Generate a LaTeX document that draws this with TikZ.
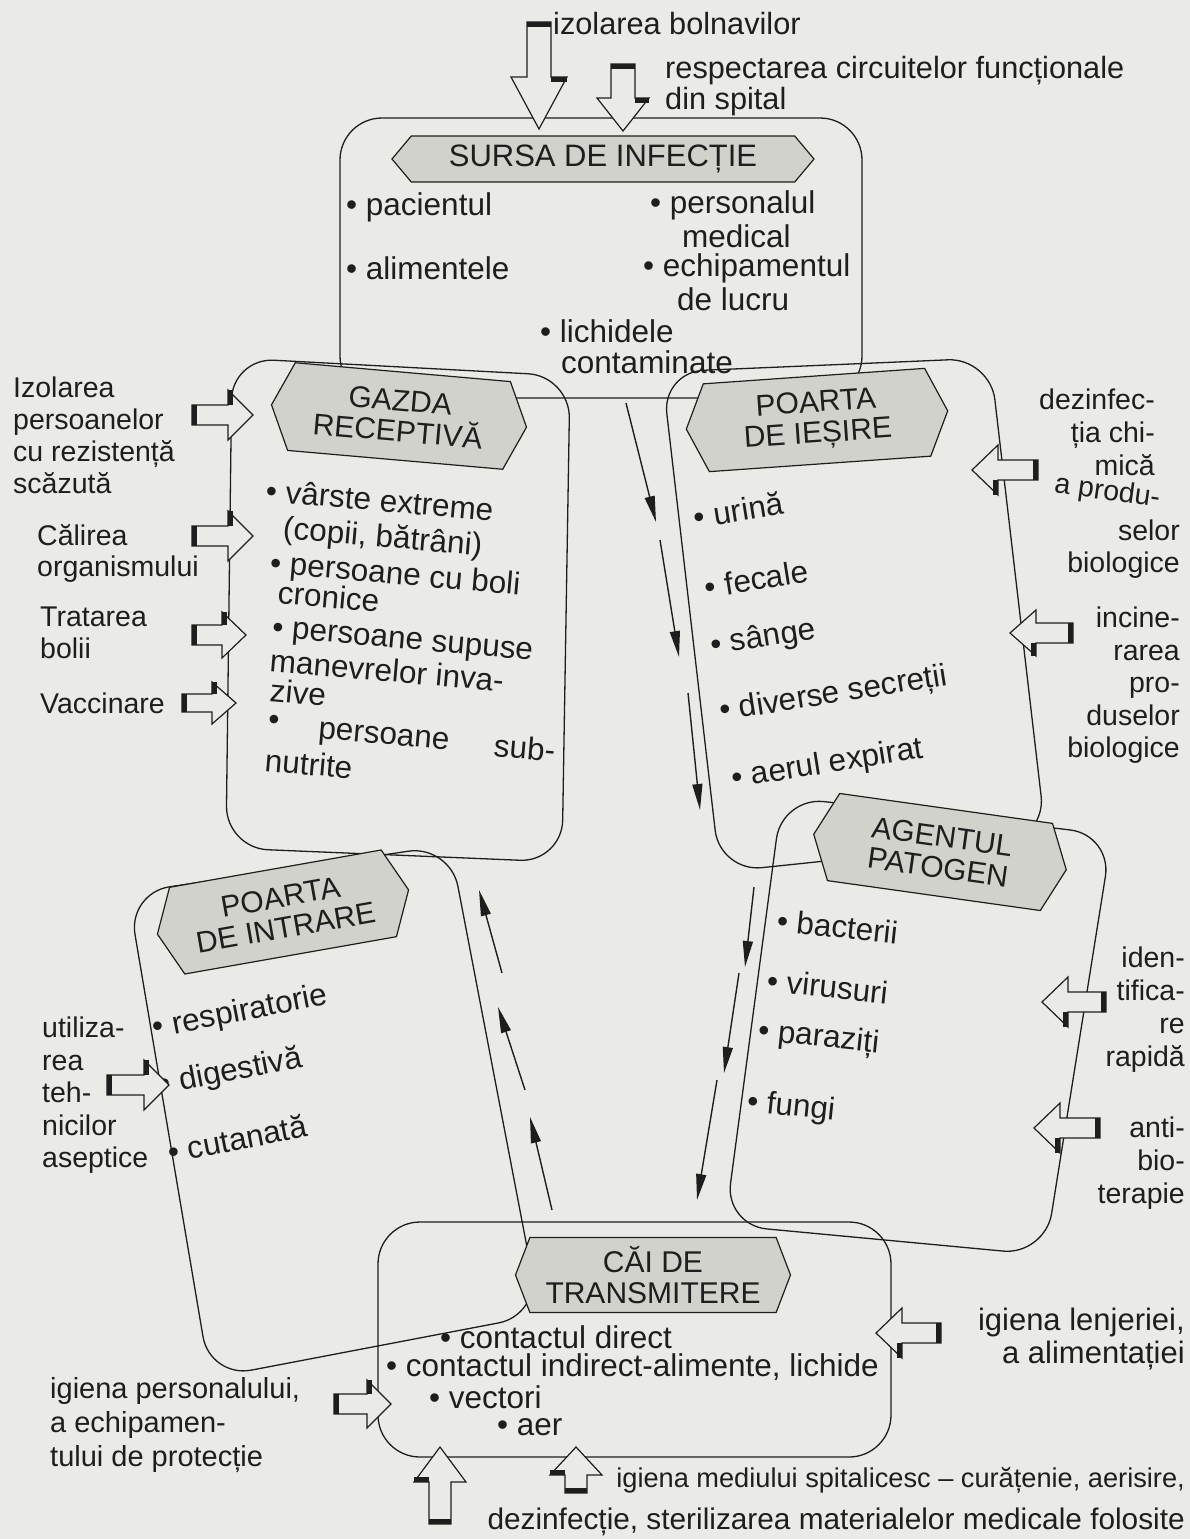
\documentclass[tikz,border=0pt]{standalone}
\usepackage{fontspec}
\setmainfont{Liberation Sans}
\usetikzlibrary{shapes.symbols,arrows.meta}
\definecolor{paper}{RGB}{234,235,230}
\definecolor{hexfill}{RGB}{210,210,204}
\definecolor{ink}{RGB}{30,30,30}
\tikzset{
  pics/barrow/.style n args={4}{code={
    \draw[ink, line width=1.2pt, fill=paper, line join=miter]
      (0,-#4) -- ({#1-#2},-#4) -- ({#1-#2},-#3) -- (#1,0) -- ({#1-#2},#3) -- ({#1-#2},#4) -- (0,#4) -- cycle;
    \fill[ink] (0,-#4) rectangle (5,#4);
    \fill[ink] ({#1-#2},-#3) rectangle ({#1-#2+5},-#4);
  }}
}
\begin{document}
\begin{tikzpicture}[x=1pt,y=-1pt,
  cframe/.style={draw=ink, line width=1.3pt, rounded corners=42pt},
  hexa/.style={signal, signal to=west and east, signal pointer angle=131, draw=ink, line width=1.2pt, fill=hexfill, align=center, font=\fontsize{30}{31}\selectfont, text=ink, inner sep=1pt},
  txt/.style={text=ink, font=\fontsize{31.5}{32}\selectfont, inner sep=0pt, anchor=west},
  lbl/.style={text=ink, font=\fontsize{28.5}{33}\selectfont, inner sep=0pt},
  flowarr/.style={draw=ink, line width=1.4pt, -{Triangle[length=26pt,width=10pt]}},
]
\useasboundingbox (0,0) rectangle (1190,1539);
\fill[paper] (0,0) rectangle (1190,1539);

% ---------- frames
\draw[cframe] (600,118) -- (862,118) -- (862,398) -- (340,398) -- (340,118) -- cycle;
\draw[cframe] (401,367) -- (570,376) -- (562,862) -- (226,848) -- (232,358) -- cycle;
\draw[cframe] (828,365) -- (990,358) -- (1046,838) -- (720,872) -- (662,372) -- cycle;
\draw[cframe] (946,815) -- (1112,835) -- (1045,1255) -- (725,1225) -- (782,797) -- cycle;
\draw[cframe] (289,869) -- (450,845) -- (540,1315) -- (210,1378) -- (128,893) -- cycle;
\draw[cframe] (634,1222) -- (891,1222) -- (891,1457) -- (378,1457) -- (378,1222) -- cycle;

% ---------- thin flow arrows
\coordinate (d1a) at (626,403); \coordinate (d1b) at (656,522);
\coordinate (d2a) at (660,540); \coordinate (d2b) at (679,657);
\coordinate (d3a) at (688,693); \coordinate (d3b) at (700,810);
\coordinate (d4a) at (754,887); \coordinate (d4b) at (745,967);
\coordinate (d5a) at (739,973); \coordinate (d5b) at (724,1073);
\coordinate (d6a) at (717,1080); \coordinate (d6b) at (697,1200);
\coordinate (u1a) at (502,973); \coordinate (u1b) at (479,890);
\coordinate (u2a) at (525,1090); \coordinate (u2b) at (498,1007);
\coordinate (u3a) at (552,1210); \coordinate (u3b) at (530,1117);
\foreach \s in {d1,d2,d3,d4,d5,d6,u1,u2,u3} \draw[flowarr] (\s a) -- (\s b);

% ---------- hexagon titles
\node[hexa, signal pointer angle=100, minimum width=422, minimum height=46, font=\fontsize{31}{31}\selectfont] (hsursa) at (603,159) {SURSA DE INFECȚIE};
\node[hexa, rotate=-5, minimum width=256, minimum height=88] (hgazda) at (399,416) {GAZDA\\RECEPTIVĂ};
\node[hexa, rotate=4, minimum width=262, minimum height=88] (hiesire) at (817,420) {POARTA\\DE IEȘIRE};
\node[hexa, rotate=-8, minimum width=255, minimum height=88] (hagent) at (940,852) {AGENTUL\\PATOGEN};
\node[hexa, rotate=10, minimum width=255, minimum height=88] (hintrare) at (283,912) {POARTA\\DE INTRARE};
\node[hexa, signal pointer angle=138, minimum width=275, minimum height=75] (hcai) at (653,1275) {CĂI DE\\TRANSMITERE};

% ---------- sursa items
\node[txt] (s1) at (346,207) {• pacientul};
\node[txt] (s2) at (346,268) {• alimentele};
\node[txt] (s3) at (650,205) {• personalul};
\node[txt] (s4) at (682,236) {medical};
\node[txt] (s5) at (643,268) {• echipamentul};
\node[txt] (s6) at (677,299) {de lucru};
\node[txt] (s7) at (540,331) {• lichidele};
\node[txt] (s8) at (561,362) {contaminate};

% ---------- gazda items
\node[txt, rotate=-5] (g1) at (266,490) {• vârste extreme};
\node[txt, rotate=-5] (g2) at (283,530) {(copii, bătrâni)};
\node[txt, rotate=-5] (g3) at (270,565) {• persoane cu boli};
\node[txt, rotate=-5] (g4) at (278,592) {cronice};
\node[txt, rotate=-5] (g5) at (272,632) {• persoane supuse};
\node[txt, rotate=-5] (g6) at (270,660) {manevrelor inva-};
\node[txt, rotate=-5] (g7) at (270,690) {zive};
\node[txt, rotate=-5] (g8) at (268,722) {•};
\node[txt, rotate=-5] (g9) at (318,733) {persoane};
\node[txt, rotate=-5] (g10) at (494,745) {sub-};
\node[txt, rotate=-5] (g11) at (265,760) {nutrite};

% ---------- poarta de iesire items
\node[txt, rotate=9] (p1) at (694,517) {• urină};
\node[txt, rotate=9] (p2) at (705,587) {• fecale};
\node[txt, rotate=9] (p3) at (711,647) {• sânge};
\node[txt, rotate=9] (p4) at (720,713) {• diverse secreții};
\node[txt, rotate=9] (p5) at (732,780) {• aerul expirat};

% ---------- agent items
\node[txt, rotate=-6] (a1) at (777,920) {• bacterii};
\node[txt, rotate=-6] (a2) at (767,980) {• virusuri};
\node[txt, rotate=-6] (a3) at (758,1032) {• paraziți};
\node[txt, rotate=-6] (a4) at (747,1103) {• fungi};

% ---------- poarta de intrare items
\node[txt, rotate=11] (i1) at (153,1030) {• respiratorie};
\node[txt, rotate=11] (i2) at (160,1086) {• digestivă};
\node[txt, rotate=11] (i3) at (168,1152) {• cutanată};

% ---------- cai items
\node[txt] (c1) at (440,1337) {• contactul direct};
\node[txt] (c2) at (386,1367) {• contactul indirect-alimente, lichide};
\node[txt] (c3) at (429,1397) {• vectori};
\node[txt] (c4) at (497,1427) {• aer};

% ---------- block arrows
\pic[rotate=-90] (aizol) at (539,22) {barrow={107}{52}{28}{12}};
\pic[rotate=-90] (aresp) at (623,64) {barrow={67}{33}{26}{12}};
\pic (acal1) at (192,415) {barrow={61}{25}{25}{10}};
\pic (acal2) at (192,536) {barrow={61}{25}{25}{10}};
\pic (acal3) at (192,635) {barrow={54}{24}{23}{10}};
\pic (acal4) at (182,703) {barrow={54}{24}{21}{9}};
\pic (autil) at (107,1085) {barrow={62}{25}{25}{10}};
\pic (apers) at (334,1404) {barrow={57}{24}{24}{10}};
\pic[rotate=180] (adez) at (1038,470) {barrow={66}{26}{25}{10}};
\pic[rotate=180] (ainc) at (1073,633) {barrow={63}{26}{23}{10}};
\pic[rotate=180] (aiden) at (1106,1002) {barrow={64}{26}{25}{10}};
\pic[rotate=180] (aanti) at (1100,1128) {barrow={66}{26}{25}{10}};
\pic[rotate=180] (alenj) at (941,1333) {barrow={65}{26}{25}{10}};
\pic[rotate=90] (amed1) at (440,1524) {barrow={77}{35}{26}{11}};
\pic[rotate=90] (amed2) at (576,1493) {barrow={46}{28}{26}{11}};

% ---------- outside labels
\node[lbl, anchor=west, font=\fontsize{30.7}{33}\selectfont] (lizol) at (553,24) {izolarea bolnavilor};
\node[lbl, anchor=north west, align=left, font=\fontsize{30.7}{31}\selectfont] (lresp) at (665,56) {respectarea circuitelor funcționale\\din spital};
\node[lbl, anchor=north west, align=left, font=\fontsize{28.5}{32}\selectfont] (lizp) at (13,377) {Izolarea\\persoanelor\\cu rezistență\\scăzută};
\node[lbl, anchor=north west, align=left, font=\fontsize{28.5}{31}\selectfont] (lcal) at (37,524) {Călirea\\organismului};
\node[lbl, anchor=north west, align=left, font=\fontsize{28.5}{32}\selectfont] (ltrat) at (40,607) {Tratarea\\bolii};
\node[lbl, anchor=west] (lvacc) at (40,703) {Vaccinare};
\node[lbl, anchor=north east, align=right, font=\fontsize{28.5}{33}\selectfont] (ldez1) at (1155,389) {dezinfec-\\ția chi-\\mică};
\node[lbl, anchor=east, rotate=-8] (ldez2) at (1160,500) {a produ-};
\node[lbl, anchor=north east, align=right, font=\fontsize{28.5}{32}\selectfont] (ldez3) at (1180,520) {selor\\biologice};
\node[lbl, anchor=north east, align=right, font=\fontsize{28.5}{32.5}\selectfont] (linc) at (1180,607) {incine-\\rarea\\pro-\\duselor\\biologice};
\node[lbl, anchor=north east, align=right] (liden) at (1185,947) {iden-\\tifica-\\re\\rapidă};
\node[lbl, anchor=north east, align=right] (lanti) at (1185,1117) {anti-\\bio-\\terapie};
\node[lbl, anchor=north west, align=left, font=\fontsize{28.5}{32.5}\selectfont] (lutil) at (42,1017) {utiliza-\\rea\\teh-\\nicilor\\aseptice};
\node[lbl, anchor=north west, align=left, font=\fontsize{29}{34}\selectfont] (lpers) at (50,1377) {igiena personalului,\\a echipamen-\\tului de protecție};
\node[lbl, anchor=north east, align=right, font=\fontsize{31}{33}\selectfont] (llenj) at (1185,1308) {igiena lenjeriei,\\a alimentației};
\node[lbl, anchor=east, font=\fontsize{27.2}{30}\selectfont] (lmed1) at (1185,1480) {igiena mediului spitalicesc – curățenie, aerisire,};
\node[lbl, anchor=east, font=\fontsize{29.8}{30}\selectfont] (lmed2) at (1185,1522) {dezinfecție, sterilizarea materialelor medicale folosite};
\end{tikzpicture}
\end{document}
